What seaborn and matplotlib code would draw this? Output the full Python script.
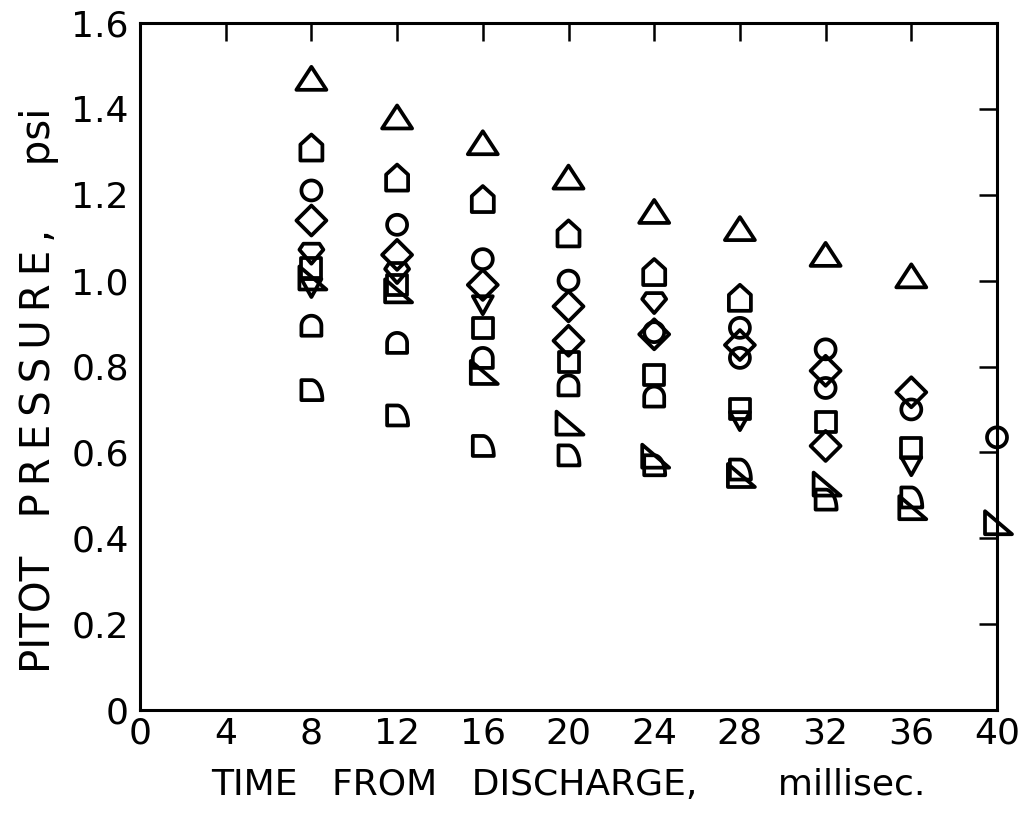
import numpy as np
import matplotlib
matplotlib.use("Agg")
import matplotlib.pyplot as plt
from matplotlib.path import Path
from matplotlib.ticker import FuncFormatter
import pandas as pd
import seaborn as sns

# Pitot pressure (psi) against time from discharge (ms), one array pair per probe symbol
tri_up_t = [8, 12, 16, 20, 24, 28, 32, 36]
tri_up_p = [1.47, 1.38, 1.32, 1.24, 1.16, 1.12, 1.06, 1.01]

house_t = [8, 12, 16, 20, 24, 28]
house_p = [1.31, 1.24, 1.19, 1.11, 1.02, 0.96]

circle_t = [8, 12, 16, 20, 24, 28, 28, 32, 32, 36, 40]
circle_p = [1.21, 1.13, 1.05, 1.00, 0.88, 0.89, 0.82, 0.84, 0.75, 0.70, 0.635]

diamond_t = [8, 12, 16, 20, 20, 24, 28, 32, 32, 36]
diamond_p = [1.14, 1.06, 0.99, 0.94, 0.86, 0.875, 0.85, 0.79, 0.615, 0.74]

kite_t = [8, 12, 24]
kite_p = [1.065, 1.02, 0.95]

tri_down_t = [8, 16, 28, 36]
tri_down_p = [0.985, 0.945, 0.675, 0.57]

square_t = [8, 12, 16, 20, 24, 28, 32, 36]
square_p = [1.03, 0.99, 0.89, 0.81, 0.78, 0.70, 0.67, 0.61]

arch_t = [8, 12, 16, 20, 24]
arch_p = [0.895, 0.855, 0.82, 0.756, 0.73]

right_tri_t = [8, 12, 16, 20, 24, 28, 32, 36, 40]
right_tri_p = [1.005, 0.975, 0.785, 0.667, 0.59, 0.545, 0.525, 0.47, 0.435]

quarter_t = [8, 12, 16, 20, 24, 28, 32, 36]
quarter_p = [0.745, 0.686, 0.615, 0.593, 0.57, 0.56, 0.49, 0.495]

x_ticks = [0, 4, 8, 12, 16, 20, 24, 28, 32, 36, 40]
y_ticks = [0, 0.2, 0.4, 0.6, 0.8, 1.0, 1.2, 1.4, 1.6]


# ---- hollow marker outlines, vertices given in pixel units around the centre ----
def closed(verts):
    verts = list(verts) + [verts[0]]
    codes = [Path.MOVETO] + [Path.LINETO] * (len(verts) - 2) + [Path.CLOSEPOLY]
    return Path(verts, codes)


def arc(cx, cy, rx, ry, a0, a1, n=24):
    a = np.radians(np.linspace(a0, a1, n))
    return [(cx + rx * np.cos(t), cy + ry * np.sin(t)) for t in a]


def marker(verts):
    path = closed(verts)
    m = np.max(np.abs(path.vertices))
    size_pt = 2 * m * 72 / 100
    return path, size_pt ** 2


shapes = {
    "tri_up": marker([(-15, -11), (15, -11), (0, 12)]),
    "house": marker([(-11, -13), (11, -13), (11, 3), (0, 13), (-11, 3)]),
    "circle": marker(arc(0, 0, 10, 10, 0, 360, 40)[:-1]),
    "diamond": marker([(0, -15), (15, 0), (0, 15), (-15, 0)]),
    "kite": marker([(-8, 9), (8, 9), (12, 3), (0, -11), (-12, 3)]),
    "tri_down": marker([(-10, 8), (10, 8), (0, -10)]),
    "square": marker([(-10, -10), (10, -10), (10, 10), (-10, 10)]),
    "arch": marker([(-10, -10), (10, -10)] + arc(0, 0, 10, 10, 0, 180)),
    "right_tri": marker([(-12, 12), (-12, -11), (15, -11)]),
    "quarter": marker([(-10, -10), (11, -10)] + arc(0, -10, 11, 20, 0, 90)[:-1]
                      + [(-10, 10)]),
}

series = [
    ("tri_up", tri_up_t, tri_up_p),
    ("house", house_t, house_p),
    ("circle", circle_t, circle_p),
    ("diamond", diamond_t, diamond_p),
    ("kite", kite_t, kite_p),
    ("tri_down", tri_down_t, tri_down_p),
    ("square", square_t, square_p),
    ("arch", arch_t, arch_p),
    ("right_tri", right_tri_t, right_tri_p),
    ("quarter", quarter_t, quarter_p),
]

sns.set_style("white")
plt.rcParams["font.family"] = ["DejaVu Sans"]
plt.rcParams["text.color"] = "black"
plt.rcParams["axes.labelcolor"] = "black"

fig = plt.figure(figsize=(10.31, 8.17), dpi=100)
ax = fig.add_axes([140 / 1031, 1 - 710 / 817, 857 / 1031, 687 / 817])

for name, t, p in series:
    path, s = shapes[name]
    df = pd.DataFrame({"time": t, "pressure": p})
    sns.scatterplot(data=df, x="time", y="pressure", ax=ax, marker=path, s=s,
                    color="black", facecolor="none", edgecolor="black",
                    linewidth=2.7, clip_on=False, zorder=3)

ax.set_xlim(0, 40)
ax.set_ylim(0, 1.6)
ax.set_xticks(x_ticks)
ax.set_yticks(y_ticks)
ax.yaxis.set_major_formatter(FuncFormatter(lambda v, _: "0" if v == 0 else f"{v:.1f}"))
ax.xaxis.set_major_formatter(FuncFormatter(lambda v, _: f"{v:.0f}"))

for side in ["left", "right", "top", "bottom"]:
    ax.spines[side].set_visible(True)
    ax.spines[side].set_color("black")
    ax.spines[side].set_linewidth(2.2)

ax.tick_params(axis="both", which="major", direction="in", length=13, width=1.8,
               colors="black", labelsize=26, top=True, right=True)
ax.tick_params(axis="x", pad=5)
ax.tick_params(axis="y", pad=8)
ax.tick_params(axis="x", which="major", top=True, labeltop=False)
ax.tick_params(axis="y", which="major", right=True, labelright=False)

ax.set_xlabel("TIME   FROM   DISCHARGE,       millisec.", fontsize=26,
              labelpad=12, color="black")
ts = "\u2009"
ylab = "PITOT   " + ts.join("PRESSURE,") + "     psi"
ax.set_ylabel(ylab, fontsize=29, labelpad=10, color="black")
ax.yaxis.set_label_coords(-0.095, 0.466)
ax.grid(False)

fig.savefig("out.png", dpi=100, facecolor="white")
